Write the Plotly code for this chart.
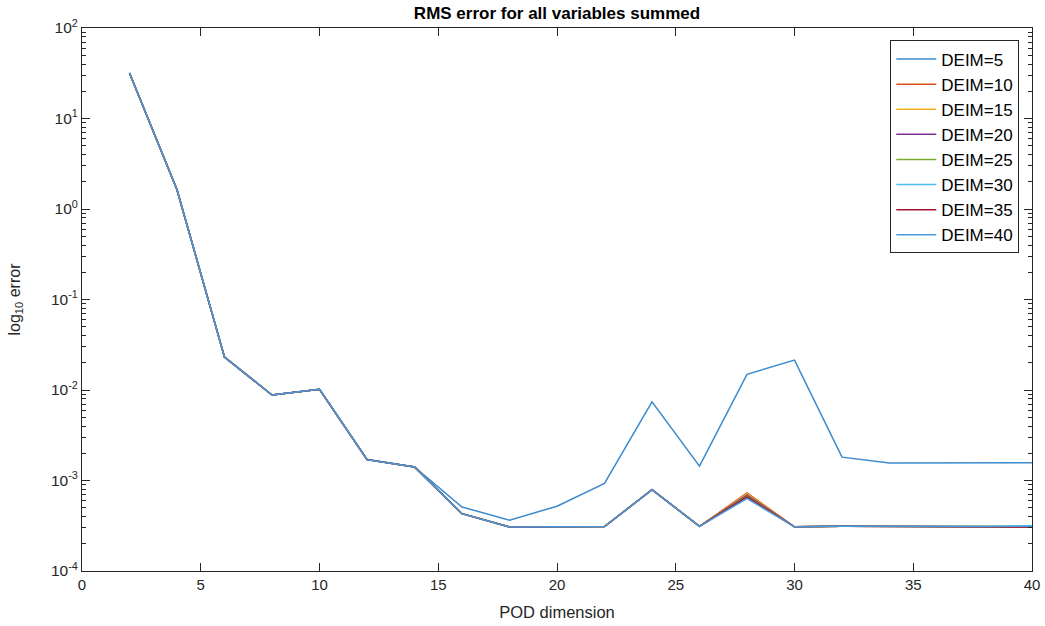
import plotly.graph_objects as go

# POD basis dimension (x) and summed RMS error for each DEIM size
pod_dim = [2, 4, 6, 8, 10, 12, 14, 16, 18, 20, 22, 24, 26, 28, 30, 32, 34, 36, 38, 40]

err_deim5 = [31.8, 1.63, 0.0231, 0.0088, 0.0102, 0.00172, 0.00141, 0.00051, 0.000364, 0.00052,
             0.00093, 0.0074, 0.00144, 0.0149, 0.0214, 0.00181, 0.00156, 0.00156, 0.00156, 0.00157]
err_deim10 = [31.8, 1.63, 0.0231, 0.0088, 0.0102, 0.0017, 0.00141, 0.00043, 0.000307, 0.00031,
              0.00031, 0.00079, 0.000312, 0.00073, 0.000308, 0.000312, 0.00031, 0.00031, 0.00031, 0.000308]
err_deim15 = [31.8, 1.63, 0.0231, 0.0088, 0.0102, 0.0017, 0.00141, 0.00043, 0.000307, 0.00031,
              0.00031, 0.00079, 0.000312, 0.00071, 0.000308, 0.000312, 0.00031, 0.00031, 0.00031, 0.00031]
err_deim20 = [31.8, 1.63, 0.0231, 0.0088, 0.0102, 0.0017, 0.00141, 0.00043, 0.000307, 0.00031,
              0.00031, 0.00079, 0.000312, 0.00069, 0.000308, 0.000312, 0.00031, 0.00031, 0.00031, 0.000309]
err_deim25 = [31.8, 1.63, 0.0231, 0.0088, 0.0102, 0.0017, 0.00141, 0.00043, 0.000307, 0.00031,
              0.00031, 0.00079, 0.000312, 0.00067, 0.000308, 0.000312, 0.00031, 0.00031, 0.00031, 0.000311]
err_deim30 = [31.8, 1.63, 0.0231, 0.0088, 0.0102, 0.0017, 0.00141, 0.00043, 0.000307, 0.00031,
              0.00031, 0.00079, 0.000312, 0.00065, 0.000308, 0.000312, 0.00031, 0.00031, 0.00031, 0.000316]
err_deim35 = [31.8, 1.63, 0.0231, 0.0088, 0.0102, 0.0017, 0.00141, 0.00043, 0.000307, 0.00031,
              0.00031, 0.00079, 0.000312, 0.00066, 0.000308, 0.000312, 0.00031, 0.00031, 0.00031, 0.000306]
err_deim40 = [31.8, 1.63, 0.0231, 0.0088, 0.0102, 0.0017, 0.00141, 0.00043, 0.000307, 0.00031,
              0.00031, 0.00079, 0.000312, 0.00063, 0.000308, 0.000312, 0.00031, 0.00031, 0.00031, 0.000312]

series_names = ["DEIM=5", "DEIM=10", "DEIM=15", "DEIM=20", "DEIM=25", "DEIM=30", "DEIM=35", "DEIM=40"]
series_values = [err_deim5, err_deim10, err_deim15, err_deim20, err_deim25, err_deim30, err_deim35, err_deim40]
series_colors = ["#3A8ACD", "#D95319", "#EDB120", "#7E2F8E", "#77AC30", "#4DBEEE", "#A2142F", "#4C9BDA"]

x_ticks = [0, 5, 10, 15, 20, 25, 30, 35, 40]
y_tick_vals = [1e-4, 1e-3, 1e-2, 1e-1, 1e0, 1e1, 1e2]
y_tick_text = ["10<sup>-4</sup>", "10<sup>-3</sup>", "10<sup>-2</sup>", "10<sup>-1</sup>",
               "10<sup>0</sup>", "10<sup>1</sup>", "10<sup>2</sup>"]

AXIS_COLOR = "#262626"
FONT = "Liberation Sans, Arial, sans-serif"

fig = go.Figure()
for name, vals, col in zip(series_names, series_values, series_colors):
    fig.add_trace(go.Scatter(x=pod_dim, y=vals, mode="lines", name=name,
                             line=dict(color=col, width=1.5)))

fig.update_layout(
    width=1045, height=626,
    margin=dict(l=82, r=13, t=28, b=55),
    paper_bgcolor="white", plot_bgcolor="white",
    font=dict(family=FONT, size=15, color=AXIS_COLOR),
    title=dict(text="<b>RMS error for all variables summed</b>", x=0.5, xref="paper",
               y=0.988, yref="container", yanchor="top",
               font=dict(family=FONT, size=17, color="black")),
    showlegend=True,
    legend=dict(x=0.9866, y=0.977, xanchor="right", yanchor="top",
                bgcolor="white", bordercolor=AXIS_COLOR, borderwidth=1,
                font=dict(family=FONT, size=17, color="black"),
                itemwidth=40, tracegroupgap=0),
)

fig.update_xaxes(
    range=[0, 40], tickvals=x_ticks, ticks="inside", ticklen=8, tickwidth=1,
    tickcolor=AXIS_COLOR, showline=True, linecolor=AXIS_COLOR, linewidth=1,
    mirror="ticks", showgrid=False, zeroline=False, automargin=False,
    tickfont=dict(family=FONT, size=15, color=AXIS_COLOR),
    title=dict(text="POD dimension", font=dict(family=FONT, size=16.5, color=AXIS_COLOR), standoff=14),
)
fig.update_yaxes(
    type="log", range=[-4, 2], tickvals=y_tick_vals, ticktext=y_tick_text,
    ticks="inside", ticklen=8, tickwidth=1, tickcolor=AXIS_COLOR,
    minor=dict(ticks="inside", ticklen=4, tickcolor=AXIS_COLOR, dtick="D1", showgrid=False),
    showline=True, linecolor=AXIS_COLOR, linewidth=1, mirror="ticks",
    showgrid=False, zeroline=False, automargin=False,
    tickfont=dict(family=FONT, size=15.5, color=AXIS_COLOR),
    title=dict(text="log<sub>10</sub> error", font=dict(family=FONT, size=16, color=AXIS_COLOR), standoff=26),
)

fig.write_html("out.html")
